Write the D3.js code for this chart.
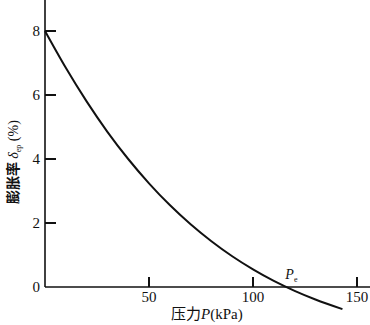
<!DOCTYPE html>
<html>
<head>
<meta charset="utf-8">
<style>
  body { margin: 0; background: #fff; }
  svg { display: block; }
  text { font-family: "Liberation Serif", "DejaVu Serif", serif; }
</style>
</head>
<body>
<div id="chart"></div>
<script src="https://d3js.org/d3.v7.min.js"></script>
<script>
  // pressure (kPa) and swelling ratio (%)
  var pressure = [0, 10, 20, 30, 40, 50, 60, 70, 80, 90, 100, 110, 120, 130, 143];
  var swelling = [8.0, 6.85, 5.8, 4.85, 4.0, 3.24, 2.56, 1.96, 1.43, 0.96, 0.55, 0.19, -0.12, -0.39, -0.69];
  var xTicks = [50, 100, 150];
  var yTicks = [0, 2, 4, 6, 8];
  var pe = 117;

  var width = 370, height = 325;
  var x = d3.scaleLinear().domain([0, 150]).range([45, 357]);
  var y = d3.scaleLinear().domain([0, 8]).range([287, 31]);

  var svg = d3.select("#chart").append("svg")
    .attr("width", width)
    .attr("height", height);

  var ink = "#111";

  // y ticks (pointing inward)
  svg.append("g").selectAll("path")
    .data(yTicks.filter(function(d) { return d > 0; }))
    .enter().append("path")
    .attr("d", function(d) { return "M" + x(0) + "," + y(d) + "h11"; })
    .attr("stroke", ink)
    .attr("stroke-width", 2);
  svg.append("g").selectAll("text")
    .data(yTicks)
    .enter().append("text")
    .attr("x", x(0) - 5)
    .attr("y", function(d) { return y(d); })
    .attr("dy", "0.35em")
    .attr("text-anchor", "end")
    .attr("font-size", 15)
    .attr("fill", ink)
    .text(function(d) { return d; });

  // x ticks (pointing up)
  svg.append("g").selectAll("path")
    .data(xTicks)
    .enter().append("path")
    .attr("d", function(d) { return "M" + x(d) + "," + y(0) + "v-10"; })
    .attr("stroke", ink)
    .attr("stroke-width", 2);
  svg.append("g").selectAll("text")
    .data(xTicks)
    .enter().append("text")
    .attr("x", function(d) { return x(d); })
    .attr("y", y(0) + 15)
    .attr("text-anchor", "middle")
    .attr("font-size", 15)
    .attr("fill", ink)
    .text(function(d) { return d; });

  // axis lines run to the edges
  svg.append("line")
    .attr("x1", x(0)).attr("x2", x(0))
    .attr("y1", 0).attr("y2", y(0))
    .attr("stroke", ink).attr("stroke-width", 1.6);
  svg.append("line")
    .attr("x1", x(0)).attr("x2", width)
    .attr("y1", y(0)).attr("y2", y(0))
    .attr("stroke", ink).attr("stroke-width", 1.6);

  // the curve
  var line = d3.line()
    .x(function(d, i) { return x(pressure[i]); })
    .y(function(d, i) { return y(swelling[i]); })
    .curve(d3.curveMonotoneX);

  svg.append("path")
    .datum(swelling)
    .attr("d", line)
    .attr("fill", "none")
    .attr("stroke", ink)
    .attr("stroke-width", 2);

  // P_e label
  var peText = svg.append("text")
    .attr("x", x(pe) - 3)
    .attr("y", y(0) - 8)
    .attr("font-size", 14)
    .attr("fill", ink);
  peText.append("tspan").attr("font-style", "italic").text("P");
  peText.append("tspan").attr("dy", 3).attr("font-size", 8).text("e");

  // x label
  var xl = svg.append("text")
    .attr("x", 171)
    .attr("y", 319)
    .attr("font-size", 15)
    .attr("fill", ink);
  xl.append("tspan").style("font-family", "'Noto Sans CJK SC', sans-serif").text("压力");
  xl.append("tspan").attr("font-style", "italic").text("P");
  xl.append("tspan").text("(kPa)");

  // y label
  var yl = svg.append("text")
    .attr("transform", "translate(18,162) rotate(-90)")
    .attr("text-anchor", "middle")
    .attr("font-size", 14)
    .attr("fill", ink);
  yl.append("tspan").style("font-family", "'Noto Sans CJK SC', sans-serif").attr("font-weight", "bold").text("膨胀率 ");
  yl.append("tspan").attr("font-style", "italic").text("δ");
  yl.append("tspan").attr("dy", 3).attr("font-size", 8).text("ep");
  yl.append("tspan").attr("dy", -3).text(" (%)");
</script>
</body>
</html>
